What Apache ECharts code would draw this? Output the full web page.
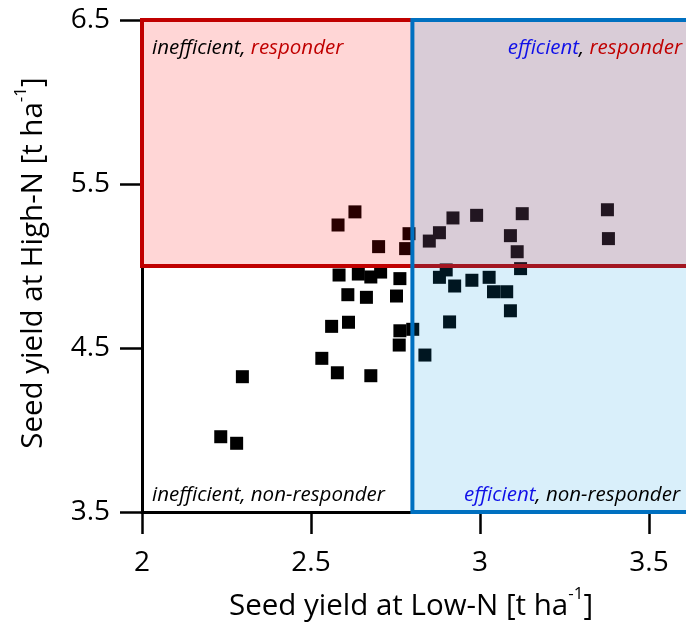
<!DOCTYPE html>
<html>
<head>
<meta charset="utf-8">
<script src="https://cdn.jsdelivr.net/npm/echarts@6/dist/echarts.min.js"></script>
<style>
html,body{margin:0;padding:0;background:#fff;}
#chart{width:686px;height:625px;}
</style>
</head>
<body>
<div id="chart"></div>
<script>
// ---- data ----
const lowN = [2.63, 2.58, 2.79, 2.70, 2.78, 2.92, 2.99, 3.125, 3.377, 2.88, 2.85, 3.09, 3.11, 3.38,
  2.90, 3.12, 2.88, 2.925, 2.976, 3.027, 3.04, 3.079, 3.09, 2.91, 2.837,
  2.583, 2.64, 2.677, 2.706, 2.763, 2.609, 2.664, 2.753, 2.561, 2.611, 2.763, 2.801, 2.761,
  2.532, 2.578, 2.677, 2.297, 2.233, 2.28];
const highN = [5.33, 5.25, 5.197, 5.118, 5.106, 5.293, 5.309, 5.319, 5.343, 5.203, 5.152, 5.185, 5.087, 5.167,
  4.976, 4.984, 4.931, 4.878, 4.913, 4.931, 4.843, 4.843, 4.727, 4.659, 4.457,
  4.945, 4.951, 4.933, 4.963, 4.923, 4.825, 4.809, 4.817, 4.632, 4.657, 4.605, 4.614, 4.518,
  4.437, 4.349, 4.331, 4.325, 3.959, 3.919];
const xRange = [2, 3.7];           // plot runs past the right edge of the picture
const yRange = [3.5, 6.5];
const xTicks = [2, 2.5, 3, 3.5];
const yTicks = [3.5, 4.5, 5.5, 6.5];
const efficiencyThreshold = 2.8;   // Low-N yield
const responseThreshold = 5.0;     // High-N yield
const xTitle = ['Seed yield at Low-N [t ha', '-1', ']'];
const yTitle = ['Seed yield at High-N [t ha', '-1', ']'];
const quadrantLabels = {
  topLeft: [['inefficient', 'k'], [', ', 'n'], ['responder', 'r']],
  topRight: [['efficient', 'b'], [', ', 'n'], ['responder', 'r']],
  bottomLeft: [['inefficient', 'n'], [', non-responder', 'n']],
  bottomRight: [['efficient', 'b'], [', non-responder', 'n']]
};

// ---- layout ----
const W = 686, H = 625;
const gridLeft = 142, gridTop = 20, gridBottomPx = 512;
const pxPerX = 338;
const gridWidth = pxPerX * (xRange[1] - xRange[0]);
const FONT = '"Open Sans", "Noto Sans", sans-serif';
const QF = 20.5;

const points = lowN.map((v, i) => [v, highN[i]]);

function richText(parts) {
  return parts.map(p => '{' + p[1] + '|' + p[0].replace(/[{}|]/g, '') + '}').join('');
}
const quadRich = {
  k: {fill: '#000', fontStyle: 'italic', fontSize: QF, fontFamily: FONT},
  n: {fill: '#000', fontStyle: 'italic', fontSize: QF, fontFamily: FONT},
  r: {fill: '#c00000', fontStyle: 'italic', fontSize: QF, fontFamily: FONT},
  b: {fill: '#1010e8', fontStyle: 'italic', fontSize: QF, fontFamily: FONT}
};
const titleRich = {
  m: {fill: '#000', fontSize: 29.5, fontFamily: FONT, lineHeight: 36, verticalAlign: 'bottom'},
  s: {fill: '#000', fontSize: 17, fontFamily: FONT, lineHeight: 36, verticalAlign: 'top', padding: [0, 0, 17, 0]}
};
function titleStr(t) { return '{m|' + t[0] + '}{s|' + t[1] + '}{m|' + t[2] + '}'; }

const chart = echarts.init(document.getElementById('chart'), null, {renderer: 'canvas'});
chart.setOption({
  animation: false,
  backgroundColor: '#fff',
  grid: {left: gridLeft, top: gridTop, width: gridWidth, height: gridBottomPx - gridTop,
         containLabel: false, outerBoundsMode: 'none'},
  xAxis: {
    type: 'value', min: xRange[0], max: xRange[1],
    axisLine: {show: true, onZero: false, lineStyle: {color: '#000', width: 3}},
    axisTick: {show: true, inside: false, length: 22, customValues: xTicks, lineStyle: {color: '#000', width: 2.5}},
    axisLabel: {show: true, customValues: xTicks, margin: 37, color: '#000', fontSize: 28, fontFamily: FONT},
    splitLine: {show: false}
  },
  yAxis: {
    type: 'value', min: yRange[0], max: yRange[1],
    axisLine: {show: true, onZero: false, lineStyle: {color: '#000', width: 3}},
    axisTick: {show: true, inside: false, length: 22, customValues: yTicks, lineStyle: {color: '#000', width: 2.5}},
    axisLabel: {show: true, customValues: yTicks, margin: 32, color: '#000', fontSize: 28, fontFamily: FONT},
    splitLine: {show: false}
  },
  series: [
    {
      type: 'scatter', name: 'lines', z: 2,
      symbol: 'rect', symbolSize: 13,
      itemStyle: {color: '#000', opacity: 1},
      data: points
    },
    {
      type: 'scatter', name: 'responder', data: [], z: 3, clip: false,
      markArea: {
        silent: true, z: 3,
        label: {show: false},
        itemStyle: {color: 'rgba(255,0,0,0.16)', borderColor: '#c00000', borderWidth: 4},
        data: [[{coord: [xRange[0], responseThreshold]}, {coord: [xRange[1], yRange[1]]}]]
      }
    },
    {
      type: 'scatter', name: 'efficient', data: [], z: 4, clip: false,
      markArea: {
        silent: true, z: 4,
        label: {show: false},
        itemStyle: {color: 'rgba(0,150,220,0.15)', borderColor: '#0070c0', borderWidth: 4},
        data: [[{coord: [efficiencyThreshold, yRange[0]]}, {coord: [xRange[1], yRange[1]]}]]
      }
    }
  ],
  graphic: [
    {type: 'text', x: 152, y: 48, z: 100, style: {text: richText(quadrantLabels.topLeft), rich: quadRich, textVerticalAlign: 'middle', textAlign: 'left', font: 'italic ' + QF + 'px ' + FONT}},
    {type: 'text', x: 682, y: 48, z: 100, style: {text: richText(quadrantLabels.topRight), rich: quadRich, textVerticalAlign: 'middle', textAlign: 'right', font: 'italic ' + QF + 'px ' + FONT}},
    {type: 'text', x: 152, y: 495, z: 100, style: {text: richText(quadrantLabels.bottomLeft), rich: quadRich, textVerticalAlign: 'middle', textAlign: 'left', font: 'italic ' + QF + 'px ' + FONT}},
    {type: 'text', x: 680, y: 495, z: 100, style: {text: richText(quadrantLabels.bottomRight), rich: quadRich, textVerticalAlign: 'middle', textAlign: 'right', font: 'italic ' + QF + 'px ' + FONT}},
    {type: 'text', x: 411, y: 604, z: 100, style: {text: titleStr(xTitle), rich: titleRich, textAlign: 'center', textVerticalAlign: 'middle', font: '29.5px ' + FONT}},
    {type: 'text', x: 31, y: 263, rotation: Math.PI / 2, z: 100, style: {text: titleStr(yTitle), rich: titleRich, textAlign: 'center', textVerticalAlign: 'middle', font: '29.5px ' + FONT}}
  ]
});
</script>
</body>
</html>
